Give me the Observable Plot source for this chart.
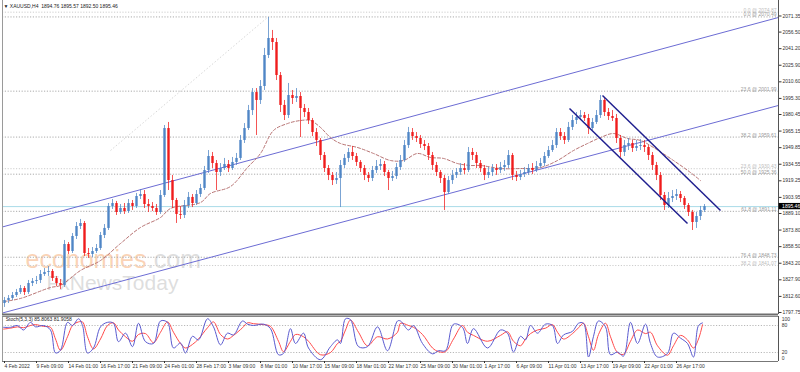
<!DOCTYPE html>
<html><head><meta charset="utf-8">
<script src="https://cdn.jsdelivr.net/npm/d3@7"></script>
<script src="https://cdn.jsdelivr.net/npm/@observablehq/plot@0.6"></script>
<style>
html,body{margin:0;padding:0;background:#fff;overflow:hidden;width:800px;height:372px}
#chart{position:relative;width:800px;height:372px}
#chart svg{display:block}
</style></head><body><div id="chart"></div>
<script>
// ---- XAUUSD H4 candles (each bar ~ 2 H4 sessions), prices
const firstOpen = 1806.0;
const closes = [
1808.8,1810.7,1813.4,1816.2,1819.9,1816.2,1824.5,1826.4,1827.3,1832.8,
1834.7,1835.6,1829.1,1824.5,1822.7,1860.5,1854.0,1867.9,1877.1,1879.9,
1852.2,1851.3,1854.0,1856.8,1868.8,1875.3,1895.6,1898.3,1890.0,1893.7,
1890.9,1898.3,1895.6,1904.8,1906.6,1897.4,1895.6,1893.7,1890.0,1905.7,
1967.5,1919.5,1901.1,1888.2,1887.3,1896.5,1903.9,1898.3,1906.6,1912.2,
1928.8,1941.7,1935.2,1926.9,1930.6,1934.3,1930.6,1936.2,1939.9,1956.5,
1967.5,1984.1,2000.7,1993.4,2006.3,2034.9,2050.6,2046.9,2016.4,1988.8,
1979.5,1998.0,1995.2,1997.1,1986.0,1982.3,1974.9,1963.8,1956.5,1942.6,
1930.6,1924.2,1919.5,1921.4,1933.4,1939.9,1945.4,1941.7,1936.2,1930.6,
1924.2,1921.4,1928.8,1932.5,1934.3,1926.9,1921.4,1923.2,1931.5,1938.0,
1951.8,1963.8,1960.1,1958.3,1952.8,1950.9,1942.6,1933.4,1926.9,1921.4,
1908.5,1919.5,1924.2,1926.9,1930.6,1928.8,1945.4,1942.6,1935.2,1930.6,
1924.2,1926.9,1930.6,1928.8,1931.5,1933.4,1942.6,1924.2,1922.3,1925.1,
1926.9,1930.6,1928.8,1932.5,1935.2,1941.7,1947.2,1951.8,1963.8,1960.1,
1956.5,1968.5,1974.9,1977.7,1979.5,1976.8,1967.5,1973.1,1979.5,1993.4,
1982.3,1978.6,1976.8,1958.3,1945.4,1951.8,1953.7,1949.1,1950.9,1951.8,
1950.0,1942.6,1933.4,1924.2,1905.7,1896.5,1902.9,1904.8,1906.6,1902.9,
1896.5,1890.0,1880.8,1886.3,1891.9,1895.46];
const highs = [
1811.6,1813.4,1816.2,1819.0,1822.7,1821.7,1827.3,1829.1,1831.0,1836.5,
1838.3,1840.2,1837.4,1831.0,1828.2,1864.2,1862.3,1870.6,1880.8,1883.6,
1881.7,1856.8,1857.7,1860.5,1871.6,1878.9,1898.3,1902.0,1900.2,1897.4,
1898.3,1902.0,1901.1,1907.6,1911.2,1910.3,1902.0,1899.2,1897.4,1910.3,
1970.3,1973.1,1924.2,1903.0,1895.6,1901.1,1908.5,1906.6,1910.3,1915.9,
1932.5,1947.2,1945.4,1938.0,1935.2,1939.9,1938.0,1940.8,1944.5,1961.1,
1972.1,1988.8,2004.4,2004.4,2011.8,2041.4,2070.0,2058.0,2050.6,2019.2,
1993.4,2009.1,2002.6,2004.4,2000.7,1989.7,1986.0,1976.8,1967.5,1958.3,
1945.4,1933.4,1926.9,1926.9,1938.0,1943.5,1949.1,1950.9,1944.5,1938.0,
1933.4,1926.9,1932.5,1938.0,1938.9,1937.1,1928.8,1927.9,1935.2,1942.6,
1956.5,1968.5,1967.5,1963.8,1961.1,1956.5,1953.7,1945.4,1936.2,1928.8,
1924.2,1923.2,1928.8,1930.6,1935.2,1935.2,1950.0,1949.1,1945.4,1938.0,
1933.4,1931.5,1934.3,1934.3,1936.2,1938.0,1947.2,1944.5,1927.9,1928.8,
1931.5,1934.3,1935.2,1937.1,1939.9,1945.4,1950.9,1956.5,1967.5,1967.5,
1963.8,1973.1,1979.5,1982.3,1984.1,1982.3,1980.5,1976.8,1984.1,1998.0,
1995.2,1986.0,1984.1,1980.5,1961.1,1956.5,1958.3,1956.5,1956.5,1957.4,
1956.5,1951.8,1945.4,1936.2,1926.9,1908.5,1908.5,1910.3,1911.2,1909.4,
1904.8,1898.3,1891.9,1890.0,1895.6,1897.4];
const lows = [
1802.4,1806.0,1808.8,1811.6,1814.4,1813.4,1814.4,1821.7,1823.6,1824.5,
1831.0,1831.0,1826.4,1821.7,1819.0,1820.8,1851.3,1852.2,1865.1,1874.3,
1849.4,1847.6,1848.5,1852.2,1855.0,1866.0,1873.4,1892.8,1887.3,1888.2,
1888.2,1889.1,1891.9,1893.7,1902.0,1893.7,1890.0,1890.9,1887.3,1888.2,
1903.9,1910.3,1893.7,1879.9,1883.6,1884.5,1893.7,1894.6,1896.5,1903.9,
1910.3,1926.0,1930.6,1910.3,1923.2,1928.8,1926.9,1928.8,1933.4,1938.0,
1953.7,1965.7,1979.5,1961.1,1989.7,2002.6,2032.1,2039.5,2011.8,1982.3,
1974.9,1976.8,1989.7,1991.5,1959.2,1977.7,1971.2,1960.1,1950.9,1938.0,
1926.9,1919.5,1914.9,1915.9,1894.6,1930.6,1936.2,1938.0,1932.5,1926.9,
1919.5,1917.7,1918.6,1926.0,1928.8,1923.2,1910.3,1918.6,1920.5,1928.8,
1936.2,1949.1,1956.5,1954.6,1949.1,1947.2,1938.0,1928.8,1923.2,1916.8,
1891.9,1906.6,1915.9,1921.4,1924.2,1925.1,1926.9,1938.0,1930.6,1926.9,
1919.5,1921.4,1923.2,1924.2,1926.0,1927.9,1930.6,1919.5,1918.6,1919.5,
1922.3,1924.2,1925.1,1926.9,1930.6,1932.5,1939.9,1945.4,1949.1,1956.5,
1952.8,1954.6,1965.7,1971.2,1974.9,1974.0,1962.0,1965.7,1971.2,1976.8,
1978.6,1974.9,1974.0,1953.7,1940.8,1941.7,1947.2,1945.4,1946.3,1947.2,
1945.4,1938.0,1928.8,1919.5,1901.1,1891.9,1893.7,1899.2,1901.1,1899.2,
1892.8,1886.3,1873.4,1875.3,1882.6,1890.0];

// moving average (dashed) read points: [bar index, price]
const maPts = [[0,1807.9],[4,1810.7],[11.5,1820.8],[14,1822.7],[19,1836.5],[24,1845.7],[29,1861.4],[34,1876.2],[39,1885.4],[41.5,1893.7],[49,1899.2],[51.5,1907.6],[56.5,1914.0],[60.75,1931.5],[64,1944.5],[67.25,1965.7],[70.75,1972.1],[74,1974.9],[76.5,1974.9],[79,1968.5],[81.5,1959.2],[84,1953.7],[88.25,1950.0],[92.25,1944.5],[96.5,1938.0],[99.75,1938.0],[103.25,1944.5],[106.5,1940.8],[109.75,1939.9],[113.25,1935.2],[116.5,1933.4],[119,1933.4],[124,1930.6],[129,1930.6],[134,1931.5],[138.25,1938.0],[142.25,1947.2],[145.75,1953.7],[149,1959.2],[152.25,1962.9],[155.75,1958.3],[159,1956.5],[162.25,1950.0],[167.25,1938.0],[171.5,1926.9],[174,1919.5]];

// trend channels [x1, p1, x2, p2]
const ascChannel = [[-1,1876.2,193.5,2070.0],[-1,1796.8,193.5,1988.8]];
const descChannel = [[149.5,1998.0,179,1891.9],[141.25,1986.0,170.75,1879.9]];
const fibTrend = [[26.5,1947.2,65.75,2070.0]];

// Fibonacci levels
const fibRatios = ["0.0","23.6","38.2","50.0","61.8","76.4"];
const fibPrices = [2070.49,2001.99,1959.61,1925.36,1891.11,1848.73];
const fib2Ratios = ["0.0","23.6","38.2"];
const fib2Prices = [2074.87,1930.43,1841.07];
const lastPrice = 1895.46;

const yTicks = [2071.35,2056.50,2041.20,2025.90,2010.60,1995.30,1980.45,1965.15,1949.85,1934.55,1919.25,1903.95,1889.10,1873.80,1858.50,1843.20,1827.90,1812.60,1797.75];

const timeTickIdx = [0,8,16,24,32,40,48,56,64,72,80,88,96,104,112,120,128,136,144,152,160,168];
const timeLabels = ["4 Feb 2022","9 Feb 09:00","14 Feb 01:00","16 Feb 17:00","21 Feb 09:00","24 Feb 01:00","28 Feb 17:00","3 Mar 09:00","8 Mar 01:00","10 Mar 17:00","15 Mar 09:00","18 Mar 01:00","22 Mar 17:00","25 Mar 09:00","30 Mar 01:00","1 Apr 17:00","6 Apr 09:00","11 Apr 01:00","13 Apr 17:00","19 Apr 09:00","22 Apr 01:00","26 Apr 17:00"];

// Stochastic (5,3,3): [bar index, value]
const stochK = [[-0.25,76],[1.5,76],[3.25,80],[4.75,70],[6.5,87],[7.75,77],[9.75,80],[11.5,70],[12.75,19],[14,25],[15.75,87],[17,80],[18.5,95],[19.5,80],[20.75,19],[22.25,30],[24,77],[25.75,87],[27.25,85],[28.5,44],[30.25,63],[32,33],[33.5,85],[35.25,44],[37.25,40],[39,90],[40.75,87],[42.25,30],[44,41],[45.25,19],[47,56],[48.5,48],[50.75,95],[52.25,77],[54,37],[55.75,63],[57.25,59],[59.5,90],[60.75,83],[62.25,80],[64.75,83],[66.5,73],[68.5,15],[69.75,18],[71.5,73],[72.75,40],[74.75,63],[76,30],[79,4],[81.5,33],[83.25,48],[84,40],[85.25,95],[86.5,93],[88.5,33],[90.75,33],[93.25,77],[95.75,24],[98.25,90],[99,90],[101,70],[102.25,80],[104.5,40],[107,17],[108.5,24],[110.25,24],[112.25,83],[114.5,76],[115.75,40],[117.25,73],[120.75,30],[124,70],[125.75,63],[127.25,21],[129,56],[130.25,48],[131.5,80],[133.25,63],[135.25,83],[137,80],[138.25,40],[139.75,59],[142,67],[143.5,85],[144.75,85],[146,10],[147.25,56],[148.5,90],[150.25,77],[151.5,15],[153.25,21],[154.75,12],[156.5,87],[158.25,40],[160.25,83],[161.5,40],[163.25,10],[165.75,18],[167.25,63],[169,52],[170.75,40],[172.25,10],[173.5,80],[174.5,85.8]];
const stochD = [[-0.25,72],[1.5,74],[3.25,77],[4.75,75],[6.5,80],[7.75,82],[9.75,78],[11.5,76],[12.75,50],[14,25],[15.75,55],[17,80],[18.5,88],[19.5,88],[20.75,55],[22.25,28],[24,50],[25.75,80],[27.25,86],[28.5,70],[30.25,55],[32,45],[33.5,60],[35.25,62],[37.25,42],[39,65],[40.75,88],[42.25,65],[44,40],[45.25,30],[47,38],[48.5,50],[50.75,75],[52.25,88],[54,60],[55.75,50],[57.25,58],[59.5,75],[60.75,86],[62.25,84],[64.75,82],[66.5,78],[68.5,45],[69.75,22],[71.5,45],[72.75,60],[74.75,55],[76,45],[79,15],[81.5,20],[83.25,40],[84,45],[85.25,70],[86.5,92],[88.5,65],[90.75,35],[93.25,55],[95.75,50],[98.25,65],[99,85],[101,80],[102.25,76],[104.5,60],[107,30],[108.5,22],[110.25,22],[112.25,50],[114.5,80],[115.75,65],[117.25,58],[120.75,45],[124,58],[125.75,66],[127.25,45],[129,35],[130.25,50],[131.5,62],[133.25,70],[135.25,74],[137,82],[138.25,65],[139.75,50],[142,62],[143.5,75],[144.75,85],[146,55],[147.25,25],[148.5,60],[150.25,85],[151.5,55],[153.25,20],[154.75,16],[156.5,45],[158.25,70],[160.25,62],[161.5,65],[163.25,35],[165.75,14],[167.25,35],[169,58],[170.75,48],[172.25,30],[173.5,50],[174.5,81.9]];
const stochLevels = [80,20];

// ---------- build
const bull = "#4f86c6", bear = "#f01c1c";
const bars = closes.map((c,i)=>({i, o: i ? closes[i-1] : firstOpen, c, h: highs[i], l: lows[i]}));
bars.forEach(b => b.col = b.c >= b.o ? bull : bear);
const fib1 = fibPrices.map((p,k)=>({p, t:`${fibRatios[k]} @ ${p.toFixed(2)}`}));
const fib2 = fib2Prices.map((p,k)=>({p, t:`${fib2Ratios[k]} @ ${p.toFixed(2)}`}));
const FONT = "'Liberation Sans', Arial, sans-serif";
const xDom = [-0.5, 193.5];

const main = Plot.plot({
  width: 800, height: 316,
  marginLeft: 2, marginRight: 22, marginTop: 0, marginBottom: 2,
  style: {fontFamily: FONT, fontSize: "5px", color: "#333", background: "#fff", overflow: "visible"},
  x: {domain: xDom, axis: null},
  y: {domain: [1795.89, 2085.65]},
  color: {type: "identity"},
  marks: [
    Plot.text(["economies"], {x: 5.25, y: 1838.4, text: d=>d, textAnchor: "start", lineAnchor: "bottom", fontSize: 25, fill: "#f9c59e", fillOpacity: 0.75}),
    Plot.text([".com"], {x: 35.6, y: 1838.4, text: d=>d, textAnchor: "start", lineAnchor: "bottom", fontSize: 25, fill: "#d6d6d6", fillOpacity: 0.8}),
    Plot.text(["FxNewsToday"], {x: 10.5, y: 1818.5, text: d=>d, textAnchor: "start", lineAnchor: "bottom", fontSize: 21, fill: "#cfcfcf", fillOpacity: 0.7}),
    Plot.ruleY(fib2, {y: "p", stroke: "#cdcdcd", strokeDasharray: "1.2,1.6"}),
    Plot.ruleY(fib1, {y: "p", stroke: "#ababab", strokeDasharray: "1.2,1.6"}),
    Plot.text(fib2, {x: 193, y: "p", text: "t", textAnchor: "end", lineAnchor: "bottom", dy: -0.5, fontSize: 5, fill: "#bdbdbd"}),
    Plot.text(fib1, {x: 193, y: "p", text: "t", textAnchor: "end", lineAnchor: "bottom", dy: -0.5, fontSize: 5, fill: "#9a9a9a"}),
    Plot.ruleY([lastPrice], {stroke: "#a9dbe8", strokeWidth: 1}),
    Plot.link(fibTrend, {x1: d=>d[0], y1: d=>d[1], x2: d=>d[2], y2: d=>d[3], stroke: "#d8d8d8", strokeDasharray: "1.5,2"}),
    Plot.link(ascChannel, {x1: d=>d[0], y1: d=>d[1], x2: d=>d[2], y2: d=>d[3], stroke: "#6c6cd4", strokeWidth: 1, clip: true}),
    Plot.line(maPts, {x: d=>d[0], y: d=>d[1], stroke: "#b87474", strokeWidth: 1, strokeDasharray: "3,2", curve: "catmull-rom"}),
    Plot.ruleX(bars, {x: "i", y1: "l", y2: "h", stroke: "col", strokeWidth: 1, strokeOpacity: 0.75}),
    Plot.ruleX(bars, {x: "i", y1: "o", y2: "c", stroke: "col", strokeWidth: 2.4}),
    Plot.link(descChannel, {x1: d=>d[0], y1: d=>d[1], x2: d=>d[2], y2: d=>d[3], stroke: "#1f1f8f", strokeWidth: 1.5}),
    Plot.text(["▼ XAUUSD,H4  1894.76 1895.57 1892.50 1895.46"], {x: -0.25, y: 2079.0, text: d=>d, textAnchor: "start", lineAnchor: "bottom", fontSize: 5, fill: "#222"}),
    Plot.ruleX([xDom[0]], {stroke: "#9a9a9a"}),
    Plot.ruleX([xDom[1]], {stroke: "#555"}),
    Plot.ruleY([1795.89], {stroke: "#6f6f6f", strokeWidth: 2}),
    Plot.axisY({anchor: "right", ticks: yTicks, tickFormat: d=>d.toFixed(2), tickSize: 2.5, tickPadding: 1.5, fontSize: 5, label: null}),
    Plot.rect([lastPrice], {x1: 193.65, x2: 199.5, y1: d=>d-2.9, y2: d=>d+2.9, fill: "#000"}),
    Plot.text([lastPrice], {x: 194.4, y: d=>d, text: d=>d.toFixed(2), textAnchor: "start", fontSize: 5, fill: "#fff"})
  ]
});

const stoch = Plot.plot({
  width: 800, height: 56,
  marginLeft: 2, marginRight: 22, marginTop: 0, marginBottom: 11,
  style: {fontFamily: FONT, fontSize: "5px", color: "#333", background: "#fff", overflow: "visible"},
  x: {domain: xDom},
  y: {domain: [0, 100], axis: null},
  marks: [
    Plot.ruleY(stochLevels, {stroke: "#b9b9b9", strokeDasharray: "1.2,1.6"}),
    Plot.line(stochD, {x: d=>d[0], y: d=>d[1], stroke: "#ff4a4a", strokeWidth: 1, curve: "catmull-rom"}),
    Plot.line(stochK, {x: d=>d[0], y: d=>d[1], stroke: "#5a5ad0", strokeWidth: 1, curve: "catmull-rom"}),
    Plot.text(["Stoch(5,3,3) 85.8063 81.9058"], {x: 0.3, y: 94, text: d=>d, textAnchor: "start", fontSize: 5, fill: "#222"}),
    Plot.ruleX([xDom[0]], {stroke: "#9a9a9a"}),
    Plot.ruleX([xDom[1]], {stroke: "#555"}),
    Plot.ruleY([0], {stroke: "#777"}),
    Plot.ruleY([100], {stroke: "#888"}),
    Plot.text([100], {x: 194.3, y: d=>d, text: d=>String(d), textAnchor: "start", dy: 2.5, fontSize: 5, fill: "#333"}),
    Plot.text(stochLevels, {x: 194.3, y: d=>d, text: d=>String(d), textAnchor: "start", fontSize: 5, fill: "#333"}),
    Plot.text([0], {x: 194.3, y: d=>d, text: d=>String(d), textAnchor: "start", dy: -3, fontSize: 5, fill: "#333"}),
    Plot.axisX({ticks: timeTickIdx, tickFormat: (d,i)=>timeLabels[timeTickIdx.indexOf(d)], textAnchor: "start", tickSize: 2, tickPadding: 1, fontSize: 5, label: null})
  ]
});

const root = document.getElementById("chart");
root.appendChild(main);
root.appendChild(stoch);
</script></body></html>
